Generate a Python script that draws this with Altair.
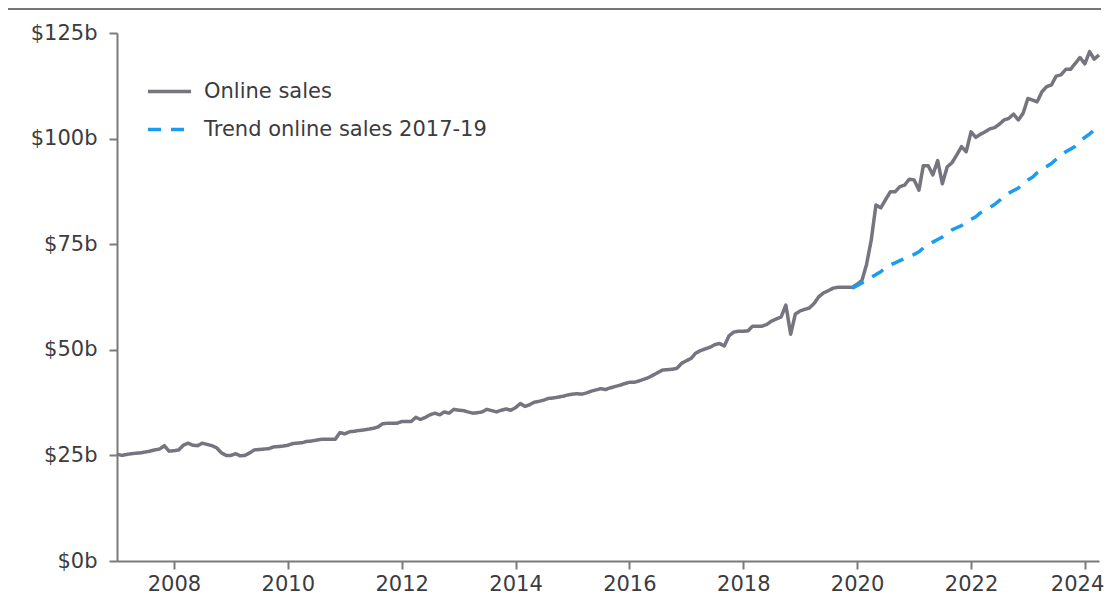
import altair as alt
import pandas as pd

# ---- data ----
online_start = "2007-01-01"
online_sales = [
    25.3, 25.0, 25.2, 25.4, 25.5, 25.6, 25.8, 26.0, 26.3, 26.5, 27.3, 26.0,   # 2007
    26.1, 26.3, 27.4, 27.9, 27.4, 27.3, 27.9, 27.6, 27.3, 26.8, 25.6, 25.0,   # 2008
    25.0, 25.4, 24.9, 25.0, 25.6, 26.3, 26.4, 26.5, 26.6, 27.0, 27.1, 27.2,   # 2009
    27.4, 27.8, 27.9, 28.0, 28.3, 28.4, 28.6, 28.8, 28.8, 28.8, 28.8, 30.4,   # 2010
    30.1, 30.6, 30.7, 30.9, 31.0, 31.2, 31.4, 31.7, 32.5, 32.6, 32.6, 32.6,   # 2011
    33.0, 33.0, 33.0, 34.0, 33.5, 34.0, 34.6, 35.0, 34.6, 35.3, 35.0, 35.9,   # 2012
    35.7, 35.6, 35.3, 35.0, 35.1, 35.3, 35.9, 35.6, 35.3, 35.7, 36.0, 35.7,   # 2013
    36.3, 37.3, 36.6, 37.0, 37.6, 37.8, 38.1, 38.5, 38.6, 38.8, 39.0, 39.3,   # 2014
    39.5, 39.6, 39.5, 39.8, 40.2, 40.5, 40.8, 40.6, 41.0, 41.3, 41.6, 42.0,   # 2015
    42.3, 42.3, 42.6, 43.0, 43.4, 44.0, 44.6, 45.2, 45.3, 45.4, 45.6, 46.8,   # 2016
    47.4, 48.0, 49.2, 49.8, 50.2, 50.6, 51.2, 51.5, 50.9, 53.3, 54.2, 54.4,   # 2017
    54.4, 54.5, 55.6, 55.6, 55.6, 56.0, 56.8, 57.3, 57.8, 60.6, 53.7, 58.5,   # 2018
    59.2, 59.6, 59.9, 61.0, 62.6, 63.5, 64.0, 64.6, 64.8, 64.8, 64.8, 64.8,   # 2019
    65.5, 66.4, 70.1, 76.0, 84.3, 83.6, 85.5, 87.4, 87.4, 88.6, 89.0, 90.4,   # 2020
    90.2, 87.8, 93.6, 93.6, 91.4, 94.8, 89.3, 93.3, 94.3, 96.1, 98.1, 96.9,   # 2021
    101.6, 100.3, 101.0, 101.6, 102.3, 102.6, 103.4, 104.4, 104.8, 105.8, 104.4, 106.0,  # 2022
    109.5, 109.1, 108.7, 111.1, 112.3, 112.7, 114.8, 115.1, 116.4, 116.4, 117.8, 119.2,  # 2023
    117.7, 120.6, 118.8, 119.8,                                               # 2024
]

trend_start = "2019-12-01"
trend_sales = [
    64.6,
    65.2, 65.8, 66.6, 67.2, 67.8, 68.5, 69.4, 70.1, 70.6, 71.1, 71.6, 72.1,   # 2020
    72.6, 73.2, 74.1, 74.8, 75.5, 76.1, 76.7, 77.6, 78.4, 78.9, 79.4, 80.2,   # 2021
    80.9, 81.5, 82.4, 83.1, 83.7, 84.4, 85.3, 86.3, 87.1, 87.7, 88.3, 89.3,   # 2022
    90.2, 90.9, 91.9, 92.8, 93.4, 94.1, 95.1, 96.1, 96.9, 97.5, 98.2, 99.3,   # 2023
    100.3, 101.1, 102.0, 102.8,                                               # 2024
]

series_names = ["Online sales", "Trend online sales 2017-19"]
series_colors = ["#75747f", "#1b9cf2"]
series_dashes = [[1, 0], [13, 10]]
y_ticks = [0, 25, 50, 75, 100, 125]
x_tick_years = [2008, 2010, 2012, 2014, 2016, 2018, 2020, 2022, 2024]
x_domain = ["2007-01-01", "2024-04-01"]

# ---- tables ----
online_df = pd.DataFrame({
    "date": pd.date_range(online_start, periods=len(online_sales), freq="MS").strftime("%Y-%m-%d"),
    "value": online_sales,
    "series": series_names[0],
})
trend_df = pd.DataFrame({
    "date": pd.date_range(trend_start, periods=len(trend_sales), freq="MS").strftime("%Y-%m-%d"),
    "value": trend_sales,
    "series": series_names[1],
})
df = pd.concat([online_df, trend_df], ignore_index=True)

font = "DejaVu Sans"
axis_grey = "#7a7a7a"
text_col = "#3b3b40"

legend_spec = alt.Legend(title=None, rowPadding=4)

lines = alt.Chart(df).mark_line(strokeWidth=3.5, strokeJoin="round").encode(
    x=alt.X(
        "date:T",
        scale=alt.Scale(type="utc", domain=x_domain),
        axis=alt.Axis(
            title=None,
            values=[alt.DateTime(year=y, month=1, date=1, utc=True) for y in x_tick_years],
            labelExpr="utcFormat(datum.value, '%Y')",
            labelPadding=4,
            labelFlush=20,
            labelFlushOffset=19,
        ),
    ),
    y=alt.Y(
        "value:Q",
        scale=alt.Scale(domain=[0, 125], nice=False),
        axis=alt.Axis(
            title=None,
            values=y_ticks,
            labelExpr="'$' + datum.value + 'b'",
            labelPadding=12,
        ),
    ),
    color=alt.Color(
        "series:N",
        scale=alt.Scale(domain=series_names, range=series_colors),
        legend=legend_spec,
    ),
    strokeDash=alt.StrokeDash(
        "series:N",
        scale=alt.Scale(domain=series_names, range=series_dashes),
        legend=legend_spec,
    ),
)

top_rule = alt.Chart(pd.DataFrame({"k": [0]})).mark_rule(
    color="#75747f", strokeWidth=2
).encode(x=alt.value(-110), x2=alt.value(984), y=alt.value(-24))

chart = alt.layer(lines, top_rule).properties(
    width=982,
    height=528,
    autosize=alt.AutoSizeParams(type="none"),
    padding={"left": 109, "top": 25, "right": 7, "bottom": 34},
).configure_view(
    stroke=None
).configure_axis(
    grid=False,
    domainColor=axis_grey,
    domainWidth=2,
    tickColor=axis_grey,
    tickWidth=2,
    tickSize=8,
    labelFont=font,
    labelFontSize=21,
    labelColor=text_col,
).configure_legend(
    orient="none",
    legendX=29,
    legendY=35,
    padding=0,
    symbolType="stroke",
    symbolSize=1849,
    symbolStrokeWidth=3.5,
    labelFont=font,
    labelFontSize=21,
    labelColor=text_col,
    labelOffset=11,
    labelLimit=500,
)

chart.save("out.html", embed_options={"renderer": "svg", "actions": False})
